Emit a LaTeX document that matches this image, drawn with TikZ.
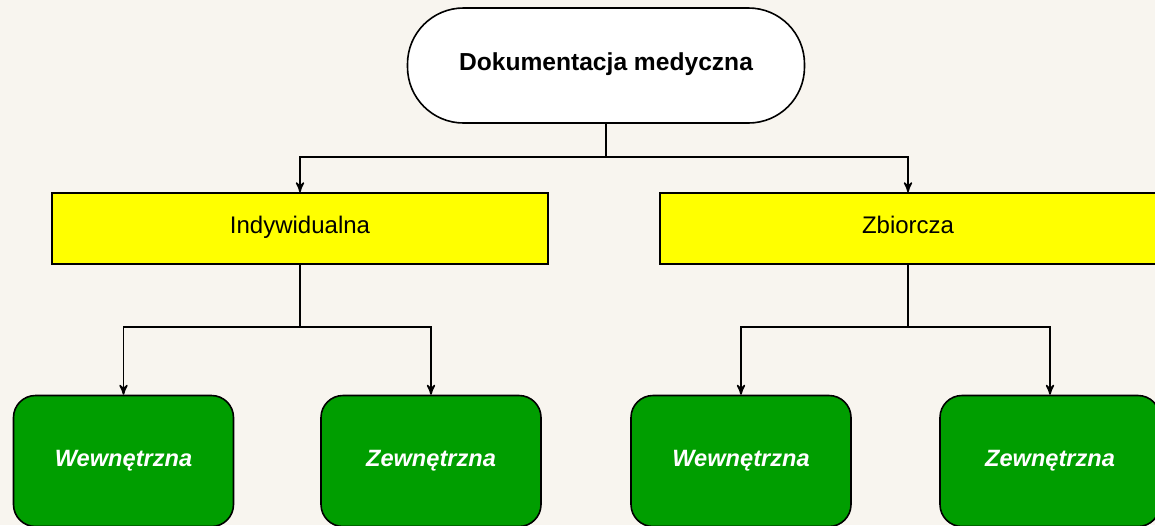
\documentclass[tikz,border=0pt]{standalone}
\usepackage{fontspec}
\setmainfont{Liberation Sans}
\usetikzlibrary{arrows,shapes,positioning}
\definecolor{paper}{HTML}{F8F5EF}
\definecolor{boxyellow}{HTML}{FFFF00}
\definecolor{boxgreen}{HTML}{009E00}
\tikzset{every node/.style={font=\fontsize{12}{14}\selectfont,
    text height=0.72em, text depth=0.21em}}
\tikzset{root/.style={shape=rectangle, draw, fill=white, rounded corners=28pt,
    minimum width=198.5pt, minimum height=57.5pt, font=\fontsize{12.3}{14}\selectfont\bfseries}}
\tikzset{kind/.style={shape=rectangle, draw, fill=boxyellow,
    minimum width=248pt, minimum height=35.5pt}}
\tikzset{leaf/.style={shape=rectangle, draw, fill=boxgreen, rounded corners=11pt,
    minimum width=110pt, minimum height=65.5pt, text=white,
    font=\fontsize{11.8}{14}\selectfont\bfseries\itshape}}

\begin{document}
\begin{tikzpicture}[>=stealth', x=0.5pt, y=-0.5pt, line width=0.8pt]
    \fill[paper] (0,0) rectangle (1155,525);
    \useasboundingbox (0,0) rectangle (1155,525);
    \node[root] (doc) at (606,65.5) {Dokumentacja medyczna};
    \node[kind] (ind) at (300,228.5) {Indywidualna};
    \node[kind] (zb) at (908,228.5) {Zbiorcza};
    \node[leaf] (ind-w) at (123.5,461) {Wewnętrzna};
    \node[leaf] (ind-z) at (431,461) {Zewnętrzna};
    \node[leaf] (zb-w) at (741,461) {Wewnętrzna};
    \node[leaf] (zb-z) at (1050,461) {Zewnętrzna};
    % split points
    \coordinate (s0) at (606,157);
    \coordinate (s1) at (300,327);
    \coordinate (s2) at (908,327);
    \path[draw] (doc) -- (s0);
    \path[draw,->] (s0) -| (ind);
    \path[draw,->] (s0) -| (zb);
    \path[draw] (ind) -- (s1);
    \path[draw,->] (s1) -| (ind-w);
    \path[draw,->] (s1) -| (ind-z);
    \path[draw] (zb) -- (s2);
    \path[draw,->] (s2) -| (zb-w);
    \path[draw,->] (s2) -| (zb-z);
\end{tikzpicture}
\end{document}
